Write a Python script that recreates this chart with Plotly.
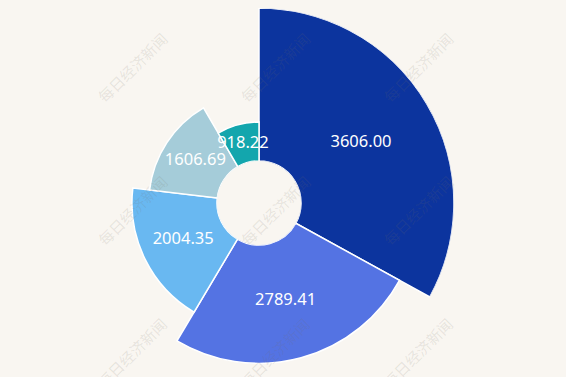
import plotly.graph_objects as go
import numpy as np

# Data
values = [3606.00, 2789.41, 2004.35, 1606.69, 918.22]
labels = ["3606.00", "2789.41", "2004.35", "1606.69", "918.22"]
colors = ["#0c349e", "#5473e3", "#69b8f1", "#a5ccd9", "#13a6ad"]

total = sum(values)
spans = [v / total * 360 for v in values]
starts = np.cumsum([0] + spans[:-1])
mids = [s + w / 2 for s, w in zip(starts, spans)]

W, H = 566, 406
cx, cy, R, hole_px = 259, 203, 195, 42

fig = go.Figure()
fig.add_trace(go.Barpolar(
    r=values, theta=mids, width=spans,
    marker=dict(color=colors, line=dict(color="white", width=1.5)),
    hoverinfo="skip", showlegend=False,
))
fig.add_trace(go.Scatterpolar(
    r=[v / 2 for v in values], theta=mids, mode="text", text=labels,
    textfont=dict(color="white", size=16.5, family="Noto Sans"),
    hoverinfo="skip", showlegend=False,
))

# watermarks
wm_x = [90, 275, 460]
wm_y = [25, 210, 395]
anns = []
for yy in wm_y:
    for xx in wm_x:
        anns.append(dict(
            x=xx / W, y=1 - yy / H, xref="paper", yref="paper",
            text="每日经济新闻", showarrow=False, textangle=-45,
            font=dict(size=15, color="rgba(120,110,100,0.14)", family="Noto Sans CJK SC"),
        ))

fig.update_layout(
    width=W, height=H,
    margin=dict(l=0, r=0, t=0, b=0),
    paper_bgcolor="#f9f6f1",
    plot_bgcolor="#f9f6f1",
    annotations=anns,
    polar=dict(
        domain=dict(x=[(cx - R) / W, (cx + R) / W], y=[1 - (cy + R) / H, 1 - (cy - R) / H]),
        bgcolor="rgba(0,0,0,0)",
        hole=hole_px / R,
        radialaxis=dict(range=[0, max(values)], visible=False, showgrid=False),
        angularaxis=dict(rotation=90, direction="clockwise", visible=False, showgrid=False),
        barmode="overlay",
    ),
)

fig.write_html(
    "out.html",
    post_script="document.documentElement.style.overflow='hidden';document.body.style.overflow='hidden';document.body.style.margin='0';",
)
